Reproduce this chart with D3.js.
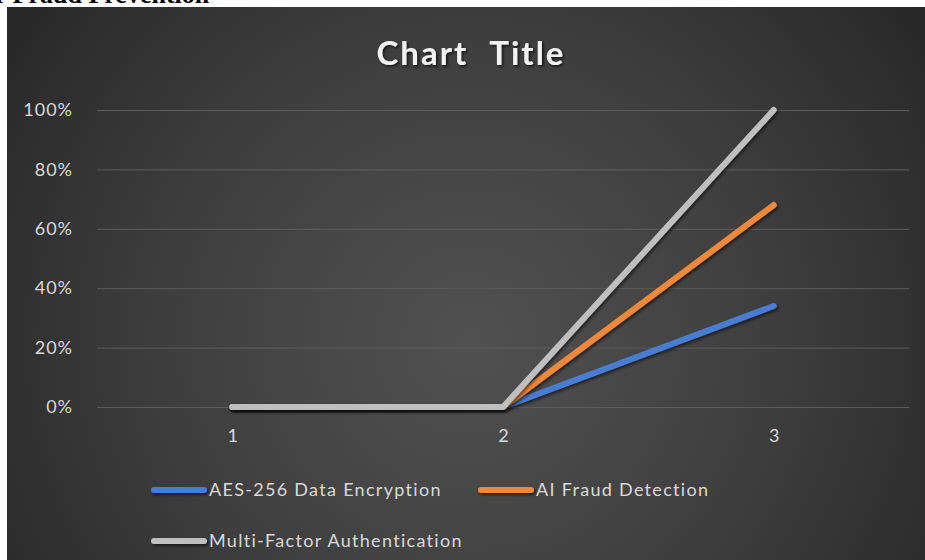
<!DOCTYPE html>
<html>
<head>
<meta charset="utf-8">
<script src="https://cdn.jsdelivr.net/npm/d3@7"></script>
<style>
  html, body { margin: 0; padding: 0; background: #ffffff; }
  svg { display: block; }
</style>
</head>
<body>
<svg id="chart" width="925" height="560"></svg>
<script>
// Categories and series values (share of total)
const categories = ["1", "2", "3"];
const seriesNames = ["AES-256 Data Encryption", "AI Fraud Detection", "Multi-Factor Authentication"];
const aesValues = [0, 0, 0.34];
const aiValues = [0, 0, 0.68];
const mfaValues = [0, 0, 1.0];
const yTickValues = [0, 0.2, 0.4, 0.6, 0.8, 1.0];
const seriesColors = ["#4a7dd3", "#f0883a", "#bfbfbf"];

const svg = d3.select("#chart");
const W = 925, H = 560;
const font = "Lato, 'Open Sans', sans-serif";

// Heading text above the chart, clipped by the top edge
svg.append("text")
  .attr("x", -5).attr("y", 3)
  .attr("font-family", "'Liberation Serif', 'Times New Roman', serif")
  .attr("font-weight", "bold")
  .attr("font-size", 26)
  .attr("fill", "#000")
  .text("r Fraud Prevention");

const defs = svg.append("defs");
const grad = defs.append("radialGradient")
  .attr("id", "bg")
  .attr("gradientUnits", "userSpaceOnUse")
  .attr("cx", 470).attr("cy", 340).attr("r", 580);
grad.append("stop").attr("offset", "0").attr("stop-color", "#515151");
grad.append("stop").attr("offset", "0.5").attr("stop-color", "#3f3f3f");
grad.append("stop").attr("offset", "1").attr("stop-color", "#262626");

// Drop shadows with a generous region so thin horizontal strokes are kept whole
function addShadow(id, dx, dy, sd, op) {
  const f = defs.append("filter").attr("id", id)
    .attr("filterUnits", "userSpaceOnUse")
    .attr("x", -1000).attr("y", -1000).attr("width", 3000).attr("height", 3000);
  f.append("feDropShadow")
    .attr("dx", dx).attr("dy", dy).attr("stdDeviation", sd)
    .attr("flood-color", "#000").attr("flood-opacity", op);
}
addShadow("shadow", 1.5, 2, 1.5, 0.55);
addShadow("tshadow", 1.5, 1.5, 1, 0.7);

// Chart area background
svg.append("rect")
  .attr("x", 7).attr("y", 7).attr("width", W - 7).attr("height", H - 7)
  .attr("fill", "url(#bg)");

// Title
svg.append("text")
  .attr("x", 471).attr("y", 65)
  .attr("text-anchor", "middle")
  .attr("font-family", font)
  .attr("font-weight", "bold")
  .attr("font-size", 33)
  .attr("letter-spacing", 2)
  .attr("word-spacing", 12)
  .attr("fill", "#f2f2f2")
  .attr("filter", "url(#tshadow)")
  .text("Chart Title");

// Scales
const x = d3.scaleBand().domain(categories).range([97, 909]);
const y = d3.scaleLinear().domain([0, 1]).range([407, 110]);
const cx = c => x(c) + x.bandwidth() / 2;

// Gridlines and y axis labels
const yAxis = d3.axisLeft(y)
  .tickValues(yTickValues)
  .tickFormat(d3.format(".0%"))
  .tickSize(-(909 - 97))
  .tickPadding(24);
const gy = svg.append("g").attr("transform", "translate(97,0)").call(yAxis);
gy.select(".domain").remove();
gy.selectAll(".tick line").attr("stroke", "#5c5c5c").attr("stroke-width", 1);
gy.selectAll(".tick text")
  .attr("fill", "#d9d9d9")
  .attr("font-family", font)
  .attr("font-size", 18)
  .attr("letter-spacing", 1);

// x axis labels
const xAxis = d3.axisBottom(d3.scalePoint().domain(categories).range([cx("1"), cx("3")]))
  .tickSize(0).tickPadding(22);
const gx = svg.append("g").attr("transform", "translate(0,407)").call(xAxis);
gx.select(".domain").remove();
gx.selectAll(".tick text")
  .attr("fill", "#d9d9d9")
  .attr("font-family", font)
  .attr("font-size", 18);

// Series lines
const series = [aesValues, aiValues, mfaValues];
const line = d3.line().x((d, i) => cx(categories[i])).y(d => y(d));
series.forEach((vals, i) => {
  svg.append("path")
    .datum(vals)
    .attr("d", line)
    .attr("fill", "none")
    .attr("stroke", seriesColors[i])
    .attr("stroke-width", 6)
    .attr("stroke-linecap", "round")
    .attr("stroke-linejoin", "round")
    .attr("filter", "url(#shadow)");
});

// Legend
const legendPos = [[151, 490], [478, 490], [151, 541]];
seriesNames.forEach((name, i) => {
  const [lx, ly] = legendPos[i];
  const g = svg.append("g").attr("transform", `translate(${lx},${ly})`);
  g.append("line")
    .attr("x1", 3).attr("x2", 53).attr("y1", 0).attr("y2", 0)
    .attr("stroke", seriesColors[i])
    .attr("stroke-width", 6)
    .attr("stroke-linecap", "round")
    .attr("filter", "url(#shadow)");
  g.append("text")
    .attr("x", 58).attr("y", 0)
    .attr("dy", "0.35em")
    .attr("fill", "#d9d9d9")
    .attr("font-family", font)
    .attr("font-size", 18)
    .attr("letter-spacing", 1.3)
    .text(name);
});
</script>
</body>
</html>
